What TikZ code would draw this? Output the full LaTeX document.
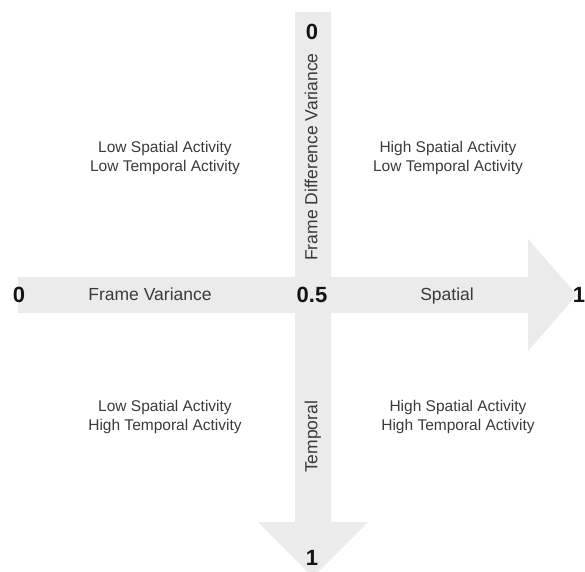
\documentclass[tikz,border=0pt]{standalone}
\usepackage{fontspec}
\setmainfont{Liberation Sans}
\usepackage{xcolor}
\usepackage{tikz}
\usetikzlibrary{calc}
\definecolor{axisgray}{RGB}{235,235,235}
\definecolor{textgray}{RGB}{58,58,58}

\begin{document}
\begin{tikzpicture}[x=1pt, y=-1pt,
	num/.style={font=\fontsize{22}{22}\selectfont\bfseries, text=black!92, inner sep=0pt},
	axislabel/.style={font=\fontsize{17.5}{20}\selectfont, text=textgray, inner sep=0pt, text height=12.6pt, text depth=0pt},
	quadlabel/.style={font=\fontsize{15.5}{19}\selectfont, text=textgray, align=center, inner sep=0pt}]
		\useasboundingbox (0,0) rectangle (585,571);
		\coordinate (O) at (313,295);
		\coordinate (L) at (18,295);
		\coordinate (R) at (577,295);
		\coordinate (T) at (313,12);
		\coordinate (B) at (313,577);
		% the two axes
		\fill[axisgray] ($(L)+(0,-18)$) -- (528,277) -- (528,239) -- (R) -- (528,351) -- (528,313) -- ($(L)+(0,18)$) -- cycle;
		\fill[axisgray] ($(T)+(-18,0)$) -- ($(T)+(18,0)$) -- (331,522) -- (368,522) -- (B) -- (258,522) -- (295,522) -- cycle;
		% scale values
		\node[num] (zeroL) at (19,295) {0};
		\node[num] (half) at (312,295) {0.5};
		\node[num] (oneR) at (579,295) {1};
		\node[num] (zeroT) at (312,32) {0};
		\node[num] (oneB) at (312,558) {1};
		% axis names
		\node[axislabel] (fvar) at (150,294) {Frame Variance};
		\node[axislabel] (spat) at (447,294) {Spatial};
		\node[axislabel, rotate=90] (fdvar) at (311,157) {Frame Difference Variance};
		\node[axislabel, rotate=90] (temp) at (311,437) {Temporal};
		% quadrants
		\node[quadlabel] (ll) at (165,158) {Low Spatial Activity\\Low Temporal Activity};
		\node[quadlabel] (hl) at (448,158) {High Spatial Activity\\Low Temporal Activity};
		\node[quadlabel] (lh) at (165,417) {Low Spatial Activity\\High Temporal Activity};
		\node[quadlabel] (hh) at (458,417) {High Spatial Activity\\High Temporal Activity};
	\end{tikzpicture}
\end{document}
